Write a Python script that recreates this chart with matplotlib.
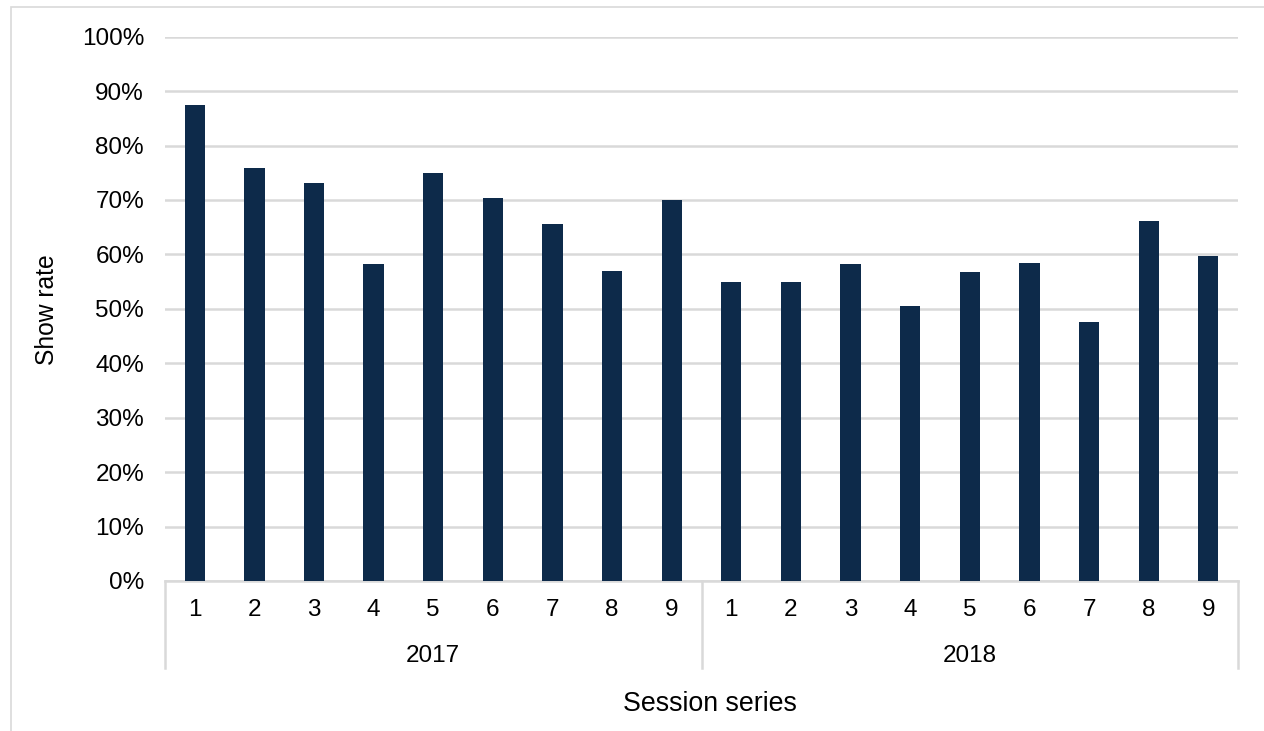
import numpy as np
import matplotlib.pyplot as plt
from matplotlib.patches import Rectangle
from matplotlib.ticker import PercentFormatter

plt.rcParams['font.family'] = ['Liberation Sans', 'DejaVu Sans']

# Show rate per session series (percent)
years = ['2017', '2018']
sessions = ['1', '2', '3', '4', '5', '6', '7', '8', '9']
rate_2017 = [87.4, 75.8, 73.2, 58.2, 74.9, 70.3, 65.5, 57.0, 70.0]
rate_2018 = [54.9, 54.9, 58.2, 50.6, 56.7, 58.5, 47.5, 66.1, 59.7]

bar_color = '#0d2a4a'
grid_color = '#d9d9d9'

values = np.array(rate_2017 + rate_2018) / 100
x = np.arange(len(values))

fig = plt.figure(figsize=(12.64, 7.31), dpi=100)
ax = fig.add_axes([0.1305, 0.2052, 0.849, 0.7446])

# outer chart border
fig.patches.append(Rectangle((11 / 1264, -0.05), 1.1, 1 - 7 / 731 + 0.05,
                             transform=fig.transFigure, fill=False,
                             edgecolor=grid_color, linewidth=1.2))

ax.bar(x, values, width=0.34, color=bar_color, zorder=3)

ax.set_ylim(0, 1)
ax.set_xlim(-0.5, len(values) - 0.5)
ax.set_yticks(np.arange(0, 1.01, 0.1))
ax.yaxis.set_major_formatter(PercentFormatter(1.0, decimals=0))
ax.grid(axis='y', color=grid_color, linewidth=1.8, zorder=0)
ax.set_axisbelow(True)
ax.tick_params(axis='y', length=0, labelsize=17.5, pad=15)
ax.set_xticks([])
for s in ['top', 'right', 'left']:
    ax.spines[s].set_visible(False)
ax.spines['bottom'].set_color(grid_color)
ax.spines['bottom'].set_linewidth(1.8)

# two-level category axis
trans = ax.get_xaxis_transform()
for i, xi in enumerate(x):
    ax.text(xi, -0.053, sessions[i % len(sessions)], transform=trans,
            ha='center', va='center', fontsize=17.5)
n = len(sessions)
for k, yr in enumerate(years):
    ax.text(k * n + (n - 1) / 2, -0.138, yr, transform=trans,
            ha='center', va='center', fontsize=17.5)
for xb in [-0.5, n - 0.5, 2 * n - 0.5]:
    ax.plot([xb, xb], [0, -0.16], transform=trans, color=grid_color,
            linewidth=1.8, clip_on=False)

fig.text(710 / 1264, 1 - 704 / 731, 'Session series',
         ha='center', va='center', fontsize=19.3)
fig.text(47 / 1264, 1 - 310 / 731, 'Show rate', rotation=90,
         ha='center', va='center', fontsize=17.7)

fig.savefig('out.png', dpi=100)
